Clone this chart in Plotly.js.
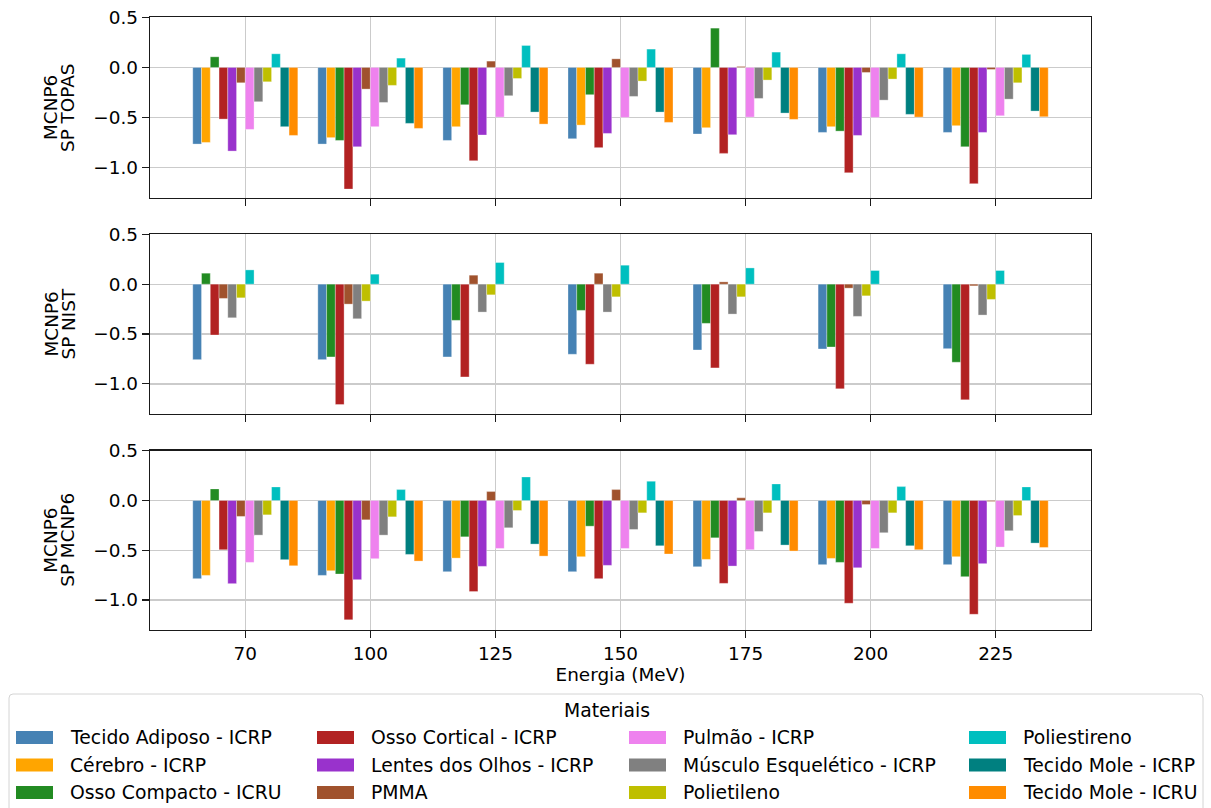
<!DOCTYPE html>
<html>
<head>
<meta charset="utf-8">
<script src="https://cdn.plot.ly/plotly-3.0.1.min.js"></script>
<style>html,body{margin:0;padding:0;background:#fff;}#chart{width:1211px;height:808px;}</style>
</head>
<body>
<div id="chart"></div>
<script>
// ---------------- DATA ----------------
const energias = ['70', '100', '125', '150', '175', '200', '225'];

const materiais = [
  'Tecido Adiposo - ICRP', 'Cérebro - ICRP', 'Osso Compacto - ICRU',
  'Osso Cortical - ICRP', 'Lentes dos Olhos - ICRP', 'PMMA',
  'Pulmão - ICRP', 'Músculo Esquelético - ICRP', 'Polietileno',
  'Poliestireno', 'Tecido Mole - ICRP', 'Tecido Mole - ICRU'
];
const cores = [
  '#4682B4', '#FFA500', '#228B22',
  '#B22222', '#9932CC', '#A0522D',
  '#EE82EE', '#808080', '#BFBF00',
  '#00BFBF', '#008080', '#FF8C00'
];

// MCNP6 vs SP TOPAS
const topas_TecidoAdiposo   = [-0.764, -0.764, -0.728, -0.711, -0.664, -0.648, -0.648];
const topas_Cerebro         = [-0.748, -0.700, -0.591, -0.575, -0.601, -0.591, -0.581];
const topas_OssoCompacto    = [ 0.106, -0.728, -0.372, -0.272,  0.392, -0.635, -0.791];
const topas_OssoCortical    = [-0.515, -1.213, -0.930, -0.800, -0.857, -1.050, -1.159];
const topas_LentesOlhos     = [-0.834, -0.791, -0.674, -0.658, -0.671, -0.678, -0.648];
const topas_PMMA            = [-0.153, -0.216,  0.063,  0.086,  0.010, -0.050, -0.020];
const topas_Pulmao          = [-0.618, -0.591, -0.495, -0.498, -0.495, -0.498, -0.482];
const topas_Musculo         = [-0.342, -0.349, -0.282, -0.289, -0.309, -0.326, -0.316];
const topas_Polietileno     = [-0.143, -0.179, -0.110, -0.136, -0.126, -0.116, -0.153];
const topas_Poliestireno    = [ 0.136,  0.093,  0.219,  0.183,  0.153,  0.136,  0.130];
const topas_TecidoMoleICRP  = [-0.591, -0.558, -0.445, -0.445, -0.455, -0.468, -0.435];
const topas_TecidoMoleICRU  = [-0.678, -0.608, -0.565, -0.548, -0.518, -0.495, -0.492];

// MCNP6 vs SP NIST (only 7 materials available)
const nist_TecidoAdiposo    = [-0.757, -0.757, -0.730, -0.703, -0.660, -0.650, -0.647];
const nist_OssoCompacto     = [ 0.110, -0.730, -0.363, -0.263, -0.393, -0.630, -0.783];
const nist_OssoCortical     = [-0.510, -1.207, -0.930, -0.803, -0.840, -1.050, -1.160];
const nist_PMMA             = [-0.143, -0.200,  0.090,  0.110,  0.023, -0.040, -0.017];
const nist_Musculo          = [-0.337, -0.347, -0.280, -0.280, -0.300, -0.323, -0.310];
const nist_Polietileno      = [-0.137, -0.170, -0.107, -0.127, -0.127, -0.117, -0.153];
const nist_Poliestireno     = [ 0.143,  0.100,  0.217,  0.190,  0.163,  0.137,  0.137];

// MCNP6 vs SP MCNP6
const mcnp_TecidoAdiposo    = [-0.786, -0.753, -0.716, -0.716, -0.666, -0.645, -0.645];
const mcnp_Cerebro          = [-0.753, -0.706, -0.579, -0.565, -0.592, -0.582, -0.565];
const mcnp_OssoCompacto     = [ 0.117, -0.739, -0.365, -0.258, -0.375, -0.622, -0.766];
const mcnp_OssoCortical     = [-0.495, -1.200, -0.916, -0.786, -0.833, -1.033, -1.144];
const mcnp_LentesOlhos      = [-0.836, -0.796, -0.662, -0.652, -0.659, -0.676, -0.635];
const mcnp_PMMA             = [-0.160, -0.194,  0.090,  0.110,  0.027, -0.040, -0.010];
const mcnp_Pulmao           = [-0.622, -0.585, -0.482, -0.482, -0.495, -0.482, -0.468];
const mcnp_Musculo          = [-0.348, -0.348, -0.274, -0.291, -0.311, -0.324, -0.304];
const mcnp_Polietileno      = [-0.144, -0.164, -0.100, -0.124, -0.124, -0.124, -0.151];
const mcnp_Poliestireno     = [ 0.137,  0.110,  0.237,  0.194,  0.167,  0.140,  0.137];
const mcnp_TecidoMoleICRP   = [-0.595, -0.542, -0.438, -0.455, -0.448, -0.455, -0.428];
const mcnp_TecidoMoleICRU   = [-0.656, -0.609, -0.559, -0.538, -0.508, -0.495, -0.472];

const yTitulos = [['MCNP6', 'SP TOPAS'], ['MCNP6', 'SP NIST'], ['MCNP6', 'SP MCNP6']];
const xTitulo = 'Energia (MeV)';
const legendaTitulo = 'Materiais';

// material arrays per panel, indexed like `materiais` (null = not available)
const paineis = [
  [topas_TecidoAdiposo, topas_Cerebro, topas_OssoCompacto, topas_OssoCortical, topas_LentesOlhos, topas_PMMA,
   topas_Pulmao, topas_Musculo, topas_Polietileno, topas_Poliestireno, topas_TecidoMoleICRP, topas_TecidoMoleICRU],
  [nist_TecidoAdiposo, null, nist_OssoCompacto, nist_OssoCortical, null, nist_PMMA,
   null, nist_Musculo, nist_Polietileno, nist_Poliestireno, null, null],
  [mcnp_TecidoAdiposo, mcnp_Cerebro, mcnp_OssoCompacto, mcnp_OssoCortical, mcnp_LentesOlhos, mcnp_PMMA,
   mcnp_Pulmao, mcnp_Musculo, mcnp_Polietileno, mcnp_Poliestireno, mcnp_TecidoMoleICRP, mcnp_TecidoMoleICRU]
];

// ---------------- BUILD ----------------
const FONT = 'DejaVu Sans, Liberation Sans, sans-serif';
const FS = 18.4;
const FSL = 18.8;
const W = 1211, H = 808;
const ML = 150, MR = 120, MT = 17, MB = 178;
const plotW = W - ML - MR, plotH = H - MT - MB;
const px = x => (x - ML) / plotW;
const py = y => (H - MB - y) / plotH;

const BW = 0.07;
const traces = [];
paineis.forEach((painel, p) => {
  let k = 0;
  painel.forEach((vals, m) => {
    if (!vals) return;
    traces.push({
      type: 'bar',
      x: energias,
      y: vals,
      name: materiais[m],
      width: BW,
      offset: -6 * BW + k * BW,
      marker: { color: cores[m], line: { color: 'rgba(255,255,255,0.55)', width: 0.6 } },
      xaxis: p === 0 ? 'x' : 'x' + (p + 1),
      yaxis: p === 0 ? 'y' : 'y' + (p + 1),
      showlegend: false,
      hoverinfo: 'x+y+name'
    });
    k++;
  });
});

const pxDomains = [[17, 198], [234, 414], [450.5, 630]];
const domains = pxDomains.map(d => [Math.max(0, py(d[1])), Math.min(1, py(d[0]))]);

function xAxis(p) {
  return {
    type: 'category',
    range: [-0.762, 6.762],
    anchor: p === 0 ? 'y' : 'y' + (p + 1),
    matches: p === 0 ? undefined : 'x',
    showgrid: true, gridcolor: '#cbcbcb', gridwidth: 1.3,
    zeroline: false,
    showline: true, linecolor: '#1a1a1a', linewidth: 1.3, mirror: true,
    ticks: 'outside', ticklen: 7, tickwidth: 1.2, tickcolor: '#1a1a1a',
    showticklabels: p === 2,
    tickfont: { family: FONT, size: FS, color: '#000' },
    title: p === 2 ? { text: xTitulo, font: { family: FONT, size: FS, color: '#000' }, standoff: 4 } : undefined
  };
}
function yAxis(p) {
  return {
    domain: domains[p],
    anchor: p === 0 ? 'x' : 'x' + (p + 1),
    range: [-1.302, 0.503],
    tickvals: [-1, -0.5, 0, 0.5],
    tickformat: '.1f',
    showgrid: true, gridcolor: '#cbcbcb', gridwidth: 1.3,
    zeroline: false,
    showline: true, linecolor: '#1a1a1a', linewidth: 1.3, mirror: true,
    ticks: 'outside', ticklen: 7, tickwidth: 1.2, tickcolor: '#1a1a1a',
    ticklabelstandoff: 0,
    tickfont: { family: FONT, size: FS, color: '#000' }
  };
}

const shapes = [];
const annotations = [];

// y-axis titles (two rotated lines per panel)
yTitulos.forEach((linhas, p) => {
  const cy = (pxDomains[p][0] + pxDomains[p][1]) / 2;
  [50.5, 67.5].forEach((lx, j) => {
    annotations.push({
      xref: 'paper', yref: 'paper', x: px(lx), y: py(cy),
      xanchor: 'center', yanchor: 'middle', textangle: -90, showarrow: false,
      text: linhas[j], font: { family: FONT, size: FS, color: '#000' }
    });
  });
});

// Manual legend (matplotlib-like, 4 columns filled column-wise)
const boxL = 9, boxT = 694, boxR = 1203, boxB = 830, r = 4;
const rx = r / plotW, ry = r / plotH;
shapes.push({
  type: 'path', xref: 'paper', yref: 'paper', layer: 'above',
  path: `M ${px(boxL)} ${py(boxB)} L ${px(boxL)} ${py(boxT) - ry} Q ${px(boxL)} ${py(boxT)} ${px(boxL) + rx} ${py(boxT)} ` +
        `L ${px(boxR) - rx} ${py(boxT)} Q ${px(boxR)} ${py(boxT)} ${px(boxR)} ${py(boxT) - ry} L ${px(boxR)} ${py(boxB)} Z`,
  line: { color: '#d4d4d4', width: 1 },
  fillcolor: 'rgba(255,255,255,0.85)'
});
annotations.push({
  xref: 'paper', yref: 'paper', x: px(606.5), y: py(710),
  xanchor: 'center', yanchor: 'middle', showarrow: false,
  text: legendaTitulo, font: { family: FONT, size: FSL, color: '#000' }
});
const colSwatchX = [16, 317, 629, 969];
const rowY = [737.5, 765, 792.5];
materiais.forEach((nome, i) => {
  const c = Math.floor(i / 3), rr = i % 3;
  const sx = colSwatchX[c], sy = rowY[rr];
  shapes.push({
    type: 'rect', xref: 'paper', yref: 'paper', layer: 'above',
    x0: px(sx), x1: px(sx + 37), y0: py(sy + 6.5), y1: py(sy - 6.5),
    fillcolor: cores[i], line: { width: 0 }
  });
  annotations.push({
    xref: 'paper', yref: 'paper', x: px(sx + 52), y: py(sy),
    xanchor: 'left', yanchor: 'middle', showarrow: false,
    text: nome, font: { family: FONT, size: FSL, color: '#000' }
  });
});

const layout = {
  width: W, height: H,
  margin: { l: ML, r: MR, t: MT, b: MB, pad: 0 },
  paper_bgcolor: '#fff', plot_bgcolor: '#fff',
  barmode: 'overlay',
  showlegend: false,
  font: { family: FONT, size: FS, color: '#000' },
  xaxis: xAxis(0), xaxis2: xAxis(1), xaxis3: xAxis(2),
  yaxis: yAxis(0), yaxis2: yAxis(1), yaxis3: yAxis(2),
  shapes: shapes,
  annotations: annotations
};

Plotly.newPlot('chart', traces, layout, { displayModeBar: false, staticPlot: true });
</script>
</body>
</html>
